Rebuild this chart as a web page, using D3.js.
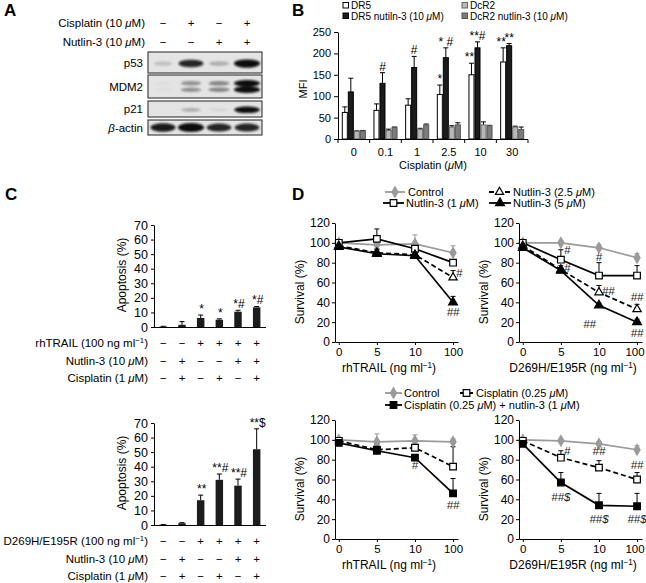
<!DOCTYPE html>
<html><head><meta charset="utf-8">
<script src="https://cdn.jsdelivr.net/npm/d3@7/dist/d3.min.js"></script>
<style>
body{margin:0;background:#fff}
svg{font-family:"Liberation Sans",Arial,Helvetica,sans-serif;font-size:11px}
</style></head><body>
<svg id="fig" width="646" height="583"></svg>
<script>
// ================= DATA =================
// Panel A (western blot, relative band intensity per lane)
const aCisplatin = ["−","+","−","+"];
const aNutlin = ["−","−","+","+"];
const aProteins = ["p53","MDM2","p21","β-actin"];
const aP53 = [0.15,0.85,0.22,1.0];
const aMDM2 = [0.03,0.35,0.4,1.0];
const aP21 = [0.0,0.22,0.06,0.95];
const aActin = [0.9,1.0,0.85,0.85];

// Panel B
const bCategories = ["0","0.1","1","2.5","10","30"];
const bSeriesNames = ["DR5","DR5 nutiln-3 (10 μM)","DcR2","DcR2 nutlin-3 (10 μM)"];
const bDR5 = [62,67,79,104,150,180];
const bDR5Err = [13,15,15,22,27,33];
const bDR5Nut = [110,130,167,190,213,218];
const bDR5NutErr = [32,25,26,23,14,5];
const bDcR2 = [18,20,23,28,33,28];
const bDcR2Err = [1,3,2,3,7,2];
const bDcR2Nut = [19,27,33,33,31,22];
const bDcR2NutErr = [1,1,2,5,1,6];
const bYTicks = [0,50,100,150,200,250];
const bMarks = [[1,1,"#"],[2,1,"#"],[3,0,"*"],[3,1,"* #"],[4,0,"**"],[4,1,"**#"],[5,0,"**"],[5,1,"**"]];

// Panel C
const cRowsTop = ["rhTRAIL (100 ng ml^-1)","Nutlin-3 (10 μM)","Cisplatin (1 μM)"];
const cRowsBot = ["D269H/E195R (100 ng ml^-1)","Nutlin-3 (10 μM)","Cisplatin (1 μM)"];
const cLigand = ["−","−","+","+","+","+"];
const cNutlin = ["−","+","−","−","+","+"];
const cCisplatin = ["−","+","−","+","−","+"];
const cTopVals = [0.3,1.5,6.2,5,10.5,13.5];
const cTopErr = [0.2,2.2,2,0.6,1,0.6];
const cTopMarks = ["","","*","*","*#","*#"];
const cBotVals = [0.2,1.2,17,31,27,52];
const cBotErr = [0.1,0.4,3.5,4,4.5,14];
const cBotMarks = ["","","**","**#","**#","**$"];
const cYTicks = [0,10,20,30,40,50,60,70];

// Panel D
const dXLabels = ["0","5","10","100"];
const dYTicks = [0,20,40,60,80,100,120];
// top-left: rhTRAIL
const dTLControl = [100,98,99,90], dTLControlErr = [0,3,9,7];
const dTLNut1 = [100,104,94,80], dTLNut1Err = [0,10,4,3];
const dTLNut25 = [97,90,88,65], dTLNut25Err = [0,3,3,7];
const dTLNut5 = [96,89,87,40], dTLNut5Err = [0,5,2,6];
const dTLMarks = [[3,70,"#","r"],[3,31,"##","c"]];
// top-right: D269H/E195R
const dTRControl = [100,100,95,85], dTRControlErr = [0,2,3,4];
const dTRNut1 = [100,83,67,67], dTRNut1Err = [0,10,13,10];
const dTRNut25 = [97,73,50,33], dTRNut25Err = [0,4,7,5];
const dTRNut5 = [95,72,37,20], dTRNut5Err = [0,3,2,3];
const dTRMarks = [[1,93,"#","r"],[1,75,"#","r"],[2,86,"#","c"],[2,52,"##","r"],[2,19,"##","l"],[3,46,"##","c"],[3,10,"##","c"]];
// bottom-left: rhTRAIL
const dBLControl = [100,98,99,98], dBLControlErr = [0,8,6,3];
const dBLCis = [99,90,92,73], dBLCisErr = [0,5,2,20];
const dBLCisNut = [97,89,82,46], dBLCisNutErr = [0,7,2,15];
const dBLMarks = [[2,75,"#","c"],[3,35,"##","c"]];
// bottom-right: D269H/E195R
const dBRControl = [100,99,96,90], dBRControlErr = [0,2,2,4];
const dBRCis = [99,82,72,60], dBRCisErr = [0,7,7,7];
const dBRCisNut = [96,57,34,33], dBRCisNutErr = [0,10,12,13];
const dBRMarks = [[1,89,"#","r"],[2,89,"##","c"],[3,75,"##","c"],[1,43,"##$","c"],[2,21,"##$","c"],[3,21,"##$","c"]];

// ================= HELPERS =================
const svg = d3.select("#fig");
function rich(t, s){
  s.split(/(μ|β|\^-1)/).forEach(p=>{
    if(!p) return;
    if(p==="μ"||p==="β") t.append("tspan").style("font-style","italic").text(p);
    else if(p==="^-1") t.append("tspan").attr("baseline-shift","super").attr("font-size","0.68em").text("−1");
    else t.append("tspan").text(p);
  });
  return t;
}
function txt(x,y,s,anchor,size){
  const t = svg.append("text").attr("x",x).attr("y",y).attr("text-anchor",anchor||"start");
  if(size) t.attr("font-size",size);
  return rich(t,s);
}
function letter(x,y,s){ svg.append("text").attr("x",x).attr("y",y).attr("font-weight","bold").attr("font-size",17).text(s); }
function styleAxis(g){ g.attr("font-family",null).attr("font-size",11); g.selectAll("path,line").attr("stroke","#000"); return g; }

// ================= PANEL A =================
letter(4,16,"A");
const laneX = d3.scalePoint().domain(d3.range(4)).range([163,247]);
txt(145,27,"Cisplatin (10 μM)","end",11.5);
txt(145,46,"Nutlin-3 (10 μM)","end",11.5);
aCisplatin.forEach((s,i)=>txt(laneX(i),27,s,"middle",11.5));
aNutlin.forEach((s,i)=>txt(laneX(i),46,s,"middle",11.5));
const defs = svg.append("defs");
defs.append("filter").attr("id","blur").attr("x","-50%").attr("y","-150%").attr("width","200%").attr("height","400%")
  .append("feGaussianBlur").attr("stdDeviation",1.2);
const blotBoxes = [
  {y0:52,y1:73,ints:aP53,bands:[0.55],h:3.2},
  {y0:75,y1:98,ints:aMDM2,bands:[0.36,0.64],h:2.6},
  {y0:101,y1:117,ints:aP21,bands:[0.55],h:2.6},
  {y0:120,y1:135,ints:aActin,bands:[0.5],h:3.4}
];
blotBoxes.forEach((b,r)=>{
  svg.append("rect").attr("x",148).attr("y",b.y0).attr("width",114).attr("height",b.y1-b.y0)
    .attr("fill","#e4e4e4").attr("stroke","#444").attr("stroke-width",1.2);
  const g = svg.append("g").attr("filter","url(#blur)");
  b.ints.forEach((v,i)=>{
    if(v<=0) return;
    b.bands.forEach(f=>{
      g.append("ellipse").attr("cx",laneX(i)).attr("cy",b.y0+(b.y1-b.y0)*f)
        .attr("rx",9+4*v).attr("ry",b.h*(0.6+0.7*v)).attr("fill","#0a0a0a").attr("opacity",Math.min(1,v*1.05));
    });
  });
  txt(143,(b.y0+b.y1)/2+4,aProteins[r],"end",11.5);
});

// ================= PANEL B =================
letter(292,16,"B");
const bx = d3.scaleBand().domain(bCategories).range([338,528]).paddingInner(0.24).paddingOuter(0.12);
const by = d3.scaleLinear().domain([0,250]).range([139,32]);
const bSub = d3.scaleBand().domain(d3.range(4)).range([0,bx.bandwidth()]);
const bVals = [bDR5,bDR5Nut,bDcR2,bDcR2Nut];
const bErrs = [bDR5Err,bDR5NutErr,bDcR2Err,bDcR2NutErr];
const bFill = ["#fff","#1c1c1c","#b8b8b8","#7c7c7c"];
const bStroke = ["#000","#000","#666","#555"];
bVals.forEach((vals,s)=>{
  vals.forEach((v,i)=>{
    const x0 = bx(bCategories[i])+bSub(s), w = bSub.bandwidth();
    const top = by(v+bErrs[s][i]);
    svg.append("line").attr("x1",x0+w/2).attr("x2",x0+w/2).attr("y1",by(v)).attr("y2",top).attr("stroke","#000");
    svg.append("line").attr("x1",x0+w/2-2.5).attr("x2",x0+w/2+2.5).attr("y1",top).attr("y2",top).attr("stroke","#000");
    svg.append("rect").attr("x",x0+0.5).attr("y",by(v)).attr("width",w-1).attr("height",by(0)-by(v))
      .attr("fill",bFill[s]).attr("stroke",bStroke[s]).attr("stroke-width",1);
  });
});
bMarks.forEach(([i,s,t])=>{
  const v = bVals[s][i]+bErrs[s][i];
  const cx = bx(bCategories[i])+bSub(s)+bSub.bandwidth()/2 + (s===0 && i>=4 ? -2 : 0);
  svg.append("text").attr("x",cx).attr("y",by(v)-2).attr("text-anchor","middle").attr("font-size",12).text(t);
});
styleAxis(svg.append("g").attr("transform","translate(338,0)")
  .call(d3.axisLeft(by).tickValues(bYTicks).tickSize(4).tickSizeOuter(0).tickPadding(3)));
svg.append("line").attr("x1",338).attr("x2",528).attr("y1",139.5).attr("y2",139.5).attr("stroke","#000");
const bStep = bx.step();
d3.range(7).forEach(k=>{
  const xx = 338 + k*bStep;
  svg.append("line").attr("x1",xx).attr("x2",xx).attr("y1",139.5).attr("y2",143).attr("stroke","#000");
});
bCategories.forEach(c=>txt(bx(c)+bx.bandwidth()/2,156,c,"middle"));
txt(433,169,"Cisplatin (μM)","middle");
svg.append("text").attr("transform","translate(307,89) rotate(-90)").attr("text-anchor","middle").text("MFI");
// legend B
const bLeg = [[343,5.5],[343,16],[462,5.5],[462,16]];
[0,1,2,3].forEach(s=>{
  const [lx,ly] = bLeg[s];
  svg.append("rect").attr("x",lx).attr("y",ly-3).attr("width",5.5).attr("height",5.5).attr("fill",bFill[s]).attr("stroke",bStroke[s]);
  txt(lx+8,ly+3.5,bSeriesNames[s],"start",10);
});

// ================= PANEL C =================
letter(5,200,"C");
function cChart(bottom, vals, errs, marks, rows, signs, rowY){
  const x = d3.scaleBand().domain(d3.range(6)).range([154,266]).paddingInner(0.6).paddingOuter(0.3);
  const y = d3.scaleLinear().domain([0,70]).range([bottom, bottom-102]);
  vals.forEach((v,i)=>{
    const cx = x(i)+x.bandwidth()/2, top = y(v+errs[i]);
    svg.append("line").attr("x1",cx).attr("x2",cx).attr("y1",y(v)).attr("y2",top).attr("stroke","#000");
    svg.append("line").attr("x1",cx-2.5).attr("x2",cx+2.5).attr("y1",top).attr("y2",top).attr("stroke","#000");
    svg.append("rect").attr("x",x(i)).attr("y",y(v)).attr("width",x.bandwidth()).attr("height",y(0)-y(v)).attr("fill","#1c1c1c");
    if(marks[i]) svg.append("text").attr("x",cx+1).attr("y",top-2).attr("text-anchor","middle").attr("font-size",12).text(marks[i]);
  });
  styleAxis(svg.append("g").attr("transform","translate(154,0)")
    .call(d3.axisLeft(y).tickValues(cYTicks).tickSize(3).tickSizeOuter(0).tickPadding(3)))
    .attr("font-size",12.5);
  svg.append("line").attr("x1",154).attr("x2",266).attr("y1",bottom+0.5).attr("y2",bottom+0.5).attr("stroke","#000");
  svg.append("text").attr("transform",`translate(126,${bottom-52}) rotate(-90)`).attr("text-anchor","middle").attr("font-size",12).text("Apoptosis (%)");
  rows.forEach((r,k)=>{
    txt(148,rowY[k],r,"end",11.5);
    signs[k].forEach((s,i)=>txt(x(i)+x.bandwidth()/2,rowY[k],s,"middle",11.5));
  });
}
cChart(327,cTopVals,cTopErr,cTopMarks,cRowsTop,[cLigand,cNutlin,cCisplatin],[347,365,382]);
cChart(525,cBotVals,cBotErr,cBotMarks,cRowsBot,[cLigand,cNutlin,cCisplatin],[545,563,580]);

// ================= PANEL D =================
letter(292,200,"D");
const dStyles = {
  control:{stroke:"#9a9a9a",fill:"#9a9a9a",sym:d3.symbolDiamond,size:32,dash:null},
  openSq:{stroke:"#000",fill:"#fff",sym:d3.symbolSquare,size:44,dash:null},
  openSqDash:{stroke:"#000",fill:"#fff",sym:d3.symbolSquare,size:44,dash:"5,3"},
  openTri:{stroke:"#000",fill:"#fff",sym:d3.symbolTriangle,size:30,dash:"5,3"},
  fillTri:{stroke:"#000",fill:"#000",sym:d3.symbolTriangle,size:34,dash:null},
  fillSq:{stroke:"#000",fill:"#000",sym:d3.symbolSquare,size:44,dash:null}
};
function marker(g,x,y,st){
  g.append("path").attr("d",d3.symbol().type(st.sym).size(st.size)()).attr("transform",`translate(${x},${y})`)
    .attr("fill",st.fill).attr("stroke",st.stroke).attr("stroke-width",1.2);
}
function dChart(left, bottom, series, marks, xTitle, lastShift){
  const x = d3.scaleLinear().domain([-0.1,3.13]).range([left,left+123]);
  const y = d3.scaleLinear().domain([0,120]).range([bottom,bottom-119]);
  styleAxis(svg.append("g").attr("transform",`translate(${left},0)`)
    .call(d3.axisLeft(y).tickValues(dYTicks).tickSize(3).tickSizeOuter(0).tickPadding(2))).attr("font-size",12);
  const gx = styleAxis(svg.append("g").attr("transform",`translate(0,${bottom})`)
    .call(d3.axisBottom(x).tickValues([0,1,2,3]).tickFormat(i=>dXLabels[i]).tickSize(3).tickSizeOuter(0).tickPadding(3))).attr("font-size",11.5);
  gx.selectAll(".tick text").filter(i=>i===3).attr("dx",lastShift||0);
  const g = svg.append("g");
  const line = d3.line().x((d,i)=>x(i)).y(d=>y(d));
  series.forEach(([vals,errs,st])=>{
    g.append("path").attr("d",line(vals)).attr("fill","none").attr("stroke",st.stroke).attr("stroke-width",1.7)
      .attr("stroke-dasharray",st.dash);
    vals.forEach((v,i)=>{
      if(!errs[i]) return;
      const top = y(v+errs[i]);
      g.append("line").attr("x1",x(i)).attr("x2",x(i)).attr("y1",y(v)).attr("y2",top).attr("stroke",st.stroke);
      g.append("line").attr("x1",x(i)-2.5).attr("x2",x(i)+2.5).attr("y1",top).attr("y2",top).attr("stroke",st.stroke);
    });
  });
  series.forEach(([vals,errs,st])=>vals.forEach((v,i)=>marker(g,x(i),y(v),st)));
  marks.forEach(([i,v,t,side])=>{
    const dx = side==="r"?3:side==="l"?-3:0;
    svg.append("text").attr("x",x(i)+dx).attr("y",y(v)+4.5)
      .attr("text-anchor",side==="r"?"start":side==="l"?"end":"middle")
      .attr("font-size",11.5).attr("font-style","italic").attr("fill","#222").text(t);
  });
  txt(left+54,bottom+30,xTitle,"middle",12);
  svg.append("text").attr("transform",`translate(${left-31},${bottom-50}) rotate(-90)`).attr("text-anchor","middle").attr("font-size",12).text("Survival (%)");
}
const S = dStyles;
dChart(335,342,[[dTLControl,dTLControlErr,S.control],[dTLNut1,dTLNut1Err,S.openSq],[dTLNut25,dTLNut25Err,S.openTri],[dTLNut5,dTLNut5Err,S.fillTri]],dTLMarks,"rhTRAIL (ng ml^-1)",0);
dChart(519,342,[[dTRControl,dTRControlErr,S.control],[dTRNut1,dTRNut1Err,S.openSq],[dTRNut25,dTRNut25Err,S.openTri],[dTRNut5,dTRNut5Err,S.fillTri]],dTRMarks,"D269H/E195R (ng ml^-1)",-2.5);
dChart(335,539,[[dBLControl,dBLControlErr,S.control],[dBLCis,dBLCisErr,S.openSqDash],[dBLCisNut,dBLCisNutErr,S.fillSq]],dBLMarks,"rhTRAIL (ng ml^-1)",0);
dChart(519,539,[[dBRControl,dBRControlErr,S.control],[dBRCis,dBRCisErr,S.openSqDash],[dBRCisNut,dBRCisNutErr,S.fillSq]],dBRMarks,"D269H/E195R (ng ml^-1)",-2.5);

// legends D
const dLeg1Names = ["Control","Nutlin-3 (1 μM)","Nutlin-3 (2.5 μM)","Nutlin-3 (5 μM)"];
const dLeg2Names = ["Control","Cisplatin (0.25 μM)","Cisplatin (0.25 μM) + nutlin-3 (1 μM)"];
function legItem(x0,x1,y,st,label,tx){
  svg.append("line").attr("x1",x0).attr("x2",x1).attr("y1",y).attr("y2",y).attr("stroke",st.stroke).attr("stroke-width",1.8).attr("stroke-dasharray",st.dash);
  marker(svg,(x0+x1)/2,y,st);
  txt(tx,y+4,label,"start",11);
}
legItem(385,405,192,S.control,dLeg1Names[0],408);
legItem(383,404,203,S.openSq,dLeg1Names[1],406);
legItem(489,510,192,S.openTri,dLeg1Names[2],513);
legItem(489,511,203,S.fillTri,dLeg1Names[3],513);
legItem(385,402,393,S.control,dLeg2Names[0],404);
legItem(460,473,393,S.openSqDash,dLeg2Names[1],476);
legItem(385,402,405,S.fillSq,dLeg2Names[2],404);
</script></body></html>
